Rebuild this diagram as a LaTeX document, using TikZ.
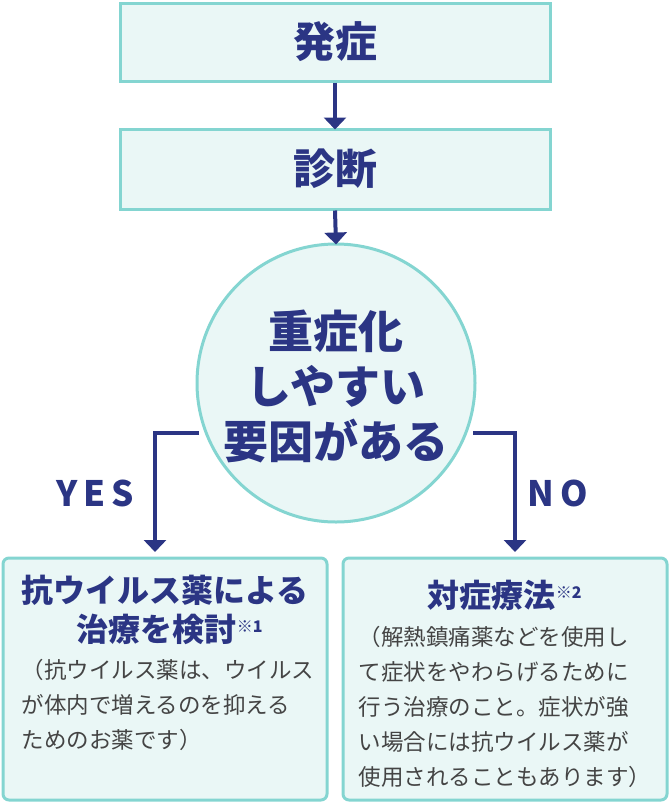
\documentclass[tikz,border=0pt]{standalone}
\usepackage{fontspec}
\setmainfont{Noto Sans CJK JP}
\usetikzlibrary{arrows.meta}
\definecolor{navy}{HTML}{2B3584}
\definecolor{tealc}{HTML}{84D5D1}
\definecolor{pale}{HTML}{EAF7F6}
\definecolor{body}{HTML}{444444}
\tikzset{
    stage/.style={draw=tealc,line width=3pt,fill=pale},
    head/.style={text=navy,font=\fontsize{42}{48}\selectfont\bfseries},
    title/.style={text=navy,font=\fontsize{32}{38}\selectfont\bfseries},
    note/.style={text=body,font=\fontsize{22.5}{35}\selectfont,align=left},
    flow/.style={draw=navy,line width=4pt,-{Triangle[length=12pt,width=22pt]}}
}
\begin{document}
\begin{tikzpicture}[x=1pt,y=-1pt]
\useasboundingbox (0,0) rectangle (670,803);
\path
    (335,42) node [stage,minimum width=430pt,minimum height=78pt] (onset) {}
    (onset) node [head] {発症}
    (335,169) node [stage,minimum width=430pt,minimum height=80pt] (diag) {}
    (diag) node [head] {診断}
    (336,383) node [stage,circle,minimum size=278pt] (risk) {};
\path
    (336,386) node [head,align=center,font=\fontsize{45}{55}\selectfont\bfseries] {重症化\\しやすい\\要因がある};
\path
    [stage,rounded corners=6pt]
    (3,558) rectangle (327,800)
    (343,558) rectangle (667,800);
\draw [flow] (onset.south) -- ([yshift=-2pt]diag.north);
\draw [flow] (diag.south) -- ([yshift=-2pt]risk.north);
\path
    (199,433) coordinate (yesstart)
    (473,433) coordinate (nostart)
    (155,552) coordinate (yesend)
    (515,552) coordinate (noend);
\draw [flow] (yesstart) -| (yesend);
\draw [flow] (nostart) -| (noend);
\path
    (95,493) node [head,font=\fontsize{35}{40}\selectfont\bfseries] (yes) {Y\,E\,S}
    (558,493) node [head,font=\fontsize{35}{40}\selectfont\bfseries] (no) {N\,O};
\path
    (165,590) node [title] (anti) {抗ウイルス薬による}
    (170,629) node [title] (anti2) {治療を検討\textsuperscript{\fontsize{16}{16}\selectfont ※1}}
    (18,705) node [note,anchor=west] (antinote) {（抗ウイルス薬は、ウイルス\\が体内で増えるのを抑える\\ためのお薬です）}
    (505,595) node [title] (symp) {対症療法\textsuperscript{\fontsize{16}{16}\selectfont ※2}}
    (355,707) node [note,anchor=west] (sympnote) {（解熱鎮痛薬などを使用し\\て症状をやわらげるために\\行う治療のこと。症状が強\\い場合には抗ウイルス薬が\\使用されることもあります）};
\end{tikzpicture}
\end{document}
